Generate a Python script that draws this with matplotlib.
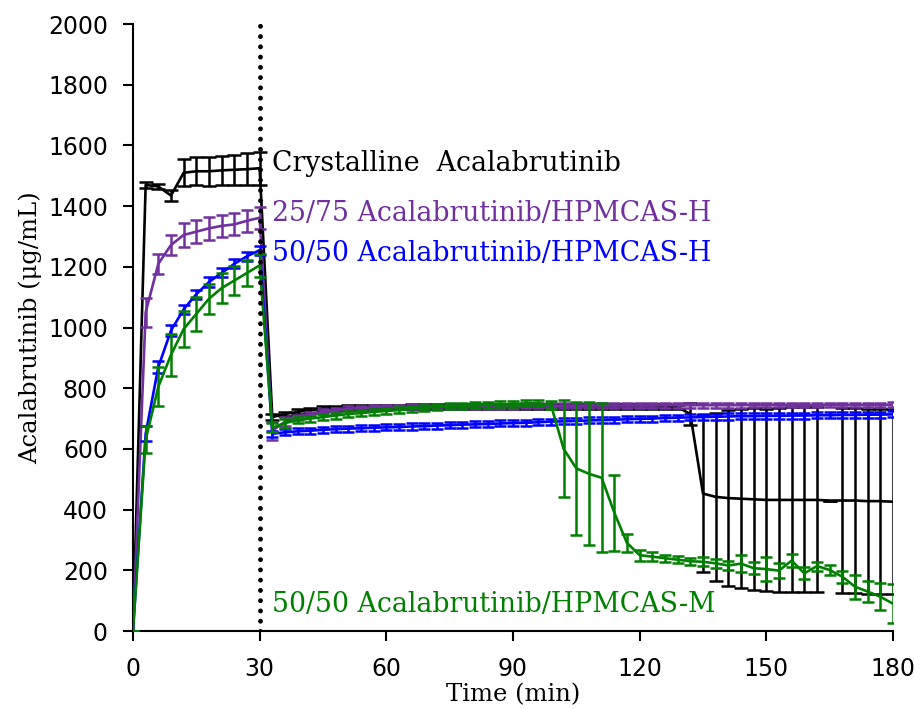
# Acalabrutinib dissolution profiles (two-stage), redrawn from the figure
import matplotlib.pyplot as plt
import numpy as np

# sampling grid, min
time_min = np.arange(0, 181, 3)

crystalline = [0, 1470, 1465, 1435, 1510, 1515, 1515, 1518, 1520, 1522, 1525,
               705, 715, 722, 728, 732, 735, 736, 737, 738, 738,
               738, 739, 739, 739, 739, 740, 740, 740, 740, 740,
               740, 740, 740, 740, 740, 740, 740, 740, 740, 740,
               740, 740, 738, 715, 453, 442, 438, 436, 434, 432,
               432, 432, 432, 432, 430, 430, 430, 428, 428, 426]
crystalline_err = [0, 10, 8, 18, 45, 46, 47, 48, 50, 52, 55,
                   10, 8, 8, 8, 8, 8, 8, 8, 8, 8,
                   8, 8, 8, 8, 8, 8, 8, 8, 8, 8,
                   8, 8, 8, 8, 8, 8, 8, 8, 8, 8,
                   8, 8, 8, 35, 258, 278, 290, 295, 300, 300,
                   302, 305, 305, 305, 0, 305, 305, 305, 305, 305]

hpmcas_h_25_75 = [0, 1050, 1210, 1272, 1305, 1316, 1327, 1335, 1340, 1352, 1362,
                  660, 690, 705, 715, 722, 728, 732, 735, 737, 738,
                  738, 739, 739, 740, 740, 740, 741, 741, 741, 741,
                  742, 742, 742, 742, 742, 743, 743, 743, 743, 743,
                  743, 744, 744, 744, 744, 744, 744, 744, 745, 745,
                  745, 745, 745, 745, 745, 745, 745, 745, 745, 746]
hpmcas_h_25_75_err = [0, 47, 33, 33, 38, 38, 38, 36, 36, 36, 36,
                      30, 15] + [8] * 48

hpmcas_h_50_50 = [0, 650, 870, 990, 1060, 1110, 1150, 1180, 1210, 1235, 1255,
                  650, 655, 658, 660, 663, 665, 667, 668, 670, 671,
                  672, 674, 675, 677, 678, 680, 681, 682, 684, 685,
                  686, 688, 690, 691, 692, 694, 695, 696, 698, 699,
                  700, 702, 703, 704, 705, 706, 707, 708, 708, 709,
                  709, 710, 710, 711, 711, 712, 712, 713, 713, 714]
hpmcas_h_50_50_err = [0, 25, 20, 18, 15, 15, 15, 15, 15, 15, 15] + [10] * 50

hpmcas_m_50_50 = [0, 630, 805, 910, 995, 1045, 1095, 1130, 1155, 1180, 1205,
                  670, 685, 695, 700, 705, 710, 715, 718, 722, 725,
                  728, 732, 735, 738, 740, 742, 744, 745, 747, 748,
                  750, 750, 745, 600, 536, 518, 505, 390, 290, 250,
                  245, 240, 235, 230, 228, 223, 216, 222, 207, 204,
                  199, 232, 190, 214, 201, 179, 146, 130, 113, 90]
hpmcas_m_50_50_err = [0, 45, 65, 70, 58, 55, 50, 50, 47, 42, 38,
                      15, 15] + [10] * 20 + [12, 160, 220, 236, 245, 125, 30, 18,
                      15, 12, 12, 12, 15, 15, 15, 28, 20, 40,
                      25, 22, 20, 15, 15, 20, 40, 35, 45, 65]

labels = ["Crystalline  Acalabrutinib",
          "25/75 Acalabrutinib/HPMCAS-H",
          "50/50 Acalabrutinib/HPMCAS-H",
          "50/50 Acalabrutinib/HPMCAS-M"]
colors = ["black", "#7030A0", "#0000FF", "#008000"]
label_y = [1542, 1377, 1245, 86]

SERIF = ["DejaVu Serif"]

fig = plt.figure(figsize=(9.14, 7.09), dpi=100)
ax = fig.add_axes([0.1455, 0.110, 0.8315, 0.856])

series = [(crystalline, crystalline_err), (hpmcas_h_25_75, hpmcas_h_25_75_err),
          (hpmcas_h_50_50, hpmcas_h_50_50_err), (hpmcas_m_50_50, hpmcas_m_50_50_err)]
caps = [5.2, 4.3, 4.3, 4.3]
order = [3, 0, 2, 1]
for k in order:
    vals, err = series[k]
    ax.errorbar(time_min, vals, yerr=err, color=colors[k], lw=1.9,
                elinewidth=1.8, capsize=caps[k], capthick=1.8, zorder=3 + k)

# end of the first stage
ax.axvline(30, color="black", lw=3.5, linestyle=(0, (0.01, 2.1)),
           dash_capstyle="round", zorder=10)

for lab, col, yy in zip(labels, colors, label_y):
    ax.text(32.9, yy, lab, color=col, fontsize=19.3, family=SERIF, va="center")

ax.set_xlim(0, 180)
ax.set_ylim(0, 2000)
ax.set_xticks(range(0, 181, 30))
ax.set_yticks(range(0, 2001, 200))
ax.tick_params(direction="out", length=7, width=1.5, labelsize=17)
ax.tick_params(axis="y", pad=11)
ax.tick_params(axis="x", pad=12)
for side in ["top", "right"]:
    ax.spines[side].set_visible(False)
for side in ["left", "bottom"]:
    ax.spines[side].set_linewidth(1.5)

ax.set_xlabel("Time (min)", fontsize=17.5, family=SERIF, labelpad=1.5)
ax.set_ylabel("Acalabrutinib (\u03bcg/mL)", fontsize=17.5, family=SERIF, labelpad=4)

fig.savefig("out.png", dpi=100)
